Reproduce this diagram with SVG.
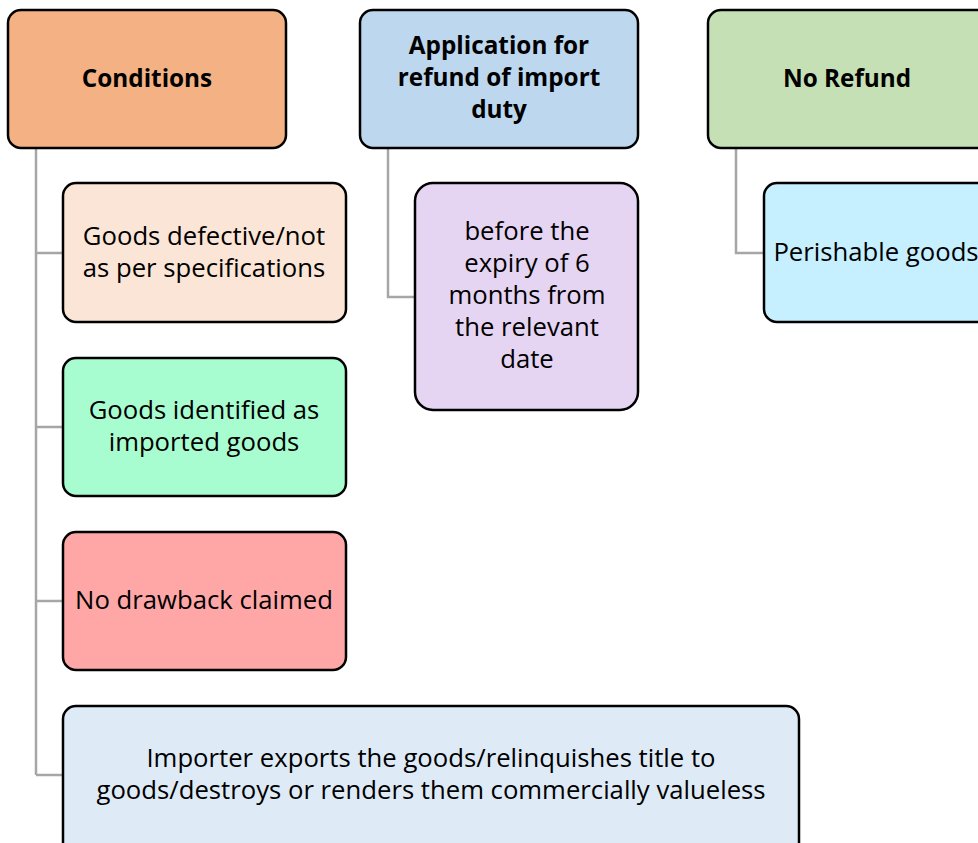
<svg xmlns="http://www.w3.org/2000/svg" width="978" height="843" viewBox="0 0 978 843">
<style>
.box{stroke:#000;stroke-width:2.5}
.t{font-family:"Open Sans","Liberation Sans",sans-serif;font-size:25.7px;fill:#000;text-anchor:middle;dominant-baseline:central}
.b{font-weight:bold;font-size:24.3px}
.c{fill:none;stroke:#A6A6A6;stroke-width:2.5}
</style>
<rect width="978" height="843" fill="#fff"/>
<g id="connectors">
<path class="c" d="M36 148V775M36 253H63M36 427H63M36 601H63M36 775H63"/>
<path class="c" d="M388 148V297H415"/>
<path class="c" d="M736 148V253H764"/>
</g>
<g id="conditions"><rect class="box" x="8" y="10" width="278" height="138" rx="13" fill="#F4B183"/><text class="t b" x="147" y="77">Conditions</text></g>
<g id="application"><rect class="box" x="360" y="10" width="278" height="138" rx="13" fill="#BDD7EE"/><text class="t b" x="499" y="44">Application for</text><text class="t b" x="499" y="76">refund of import</text><text class="t b" x="499" y="108">duty</text></g>
<g id="norefund"><rect class="box" x="708" y="10" width="290" height="138" rx="13" fill="#C5E0B4"/><text class="t b" x="847" y="77">No Refund</text></g>
<g id="defective"><rect class="box" x="63" y="183" width="283" height="139" rx="13" fill="#FBE5D6"/><text class="t" x="204" y="235">Goods defective/not</text><text class="t" x="204" y="267">as per specifications</text></g>
<g id="identified"><rect class="box" x="63" y="358" width="283" height="138" rx="13" fill="#A8FDD0"/><text class="t" x="204" y="409">Goods identified as</text><text class="t" x="204" y="441">imported goods</text></g>
<g id="drawback"><rect class="box" x="63" y="532" width="283" height="138" rx="13" fill="#FFA7A7"/><text class="t" x="204" y="599">No drawback claimed</text></g>
<g id="importer"><rect class="box" x="63" y="706" width="736" height="150" rx="13" fill="#DEEBF7"/><text class="t" x="431" y="757">Importer exports the goods/relinquishes title to</text><text class="t" x="431" y="789">goods/destroys or renders them commercially valueless</text></g>
<g id="expiry"><rect class="box" x="415" y="183" width="223" height="227" rx="18" fill="#E5D5F2"/><text class="t" x="527" y="230">before the</text><text class="t" x="527" y="262">expiry of 6</text><text class="t" x="527" y="294">months from</text><text class="t" x="527" y="326">the relevant</text><text class="t" x="527" y="358">date</text></g>
<g id="perishable"><rect class="box" x="764" y="183" width="230" height="139" rx="13" fill="#C6EFFF"/><text class="t" x="876" y="251">Perishable goods</text></g>
</svg>
